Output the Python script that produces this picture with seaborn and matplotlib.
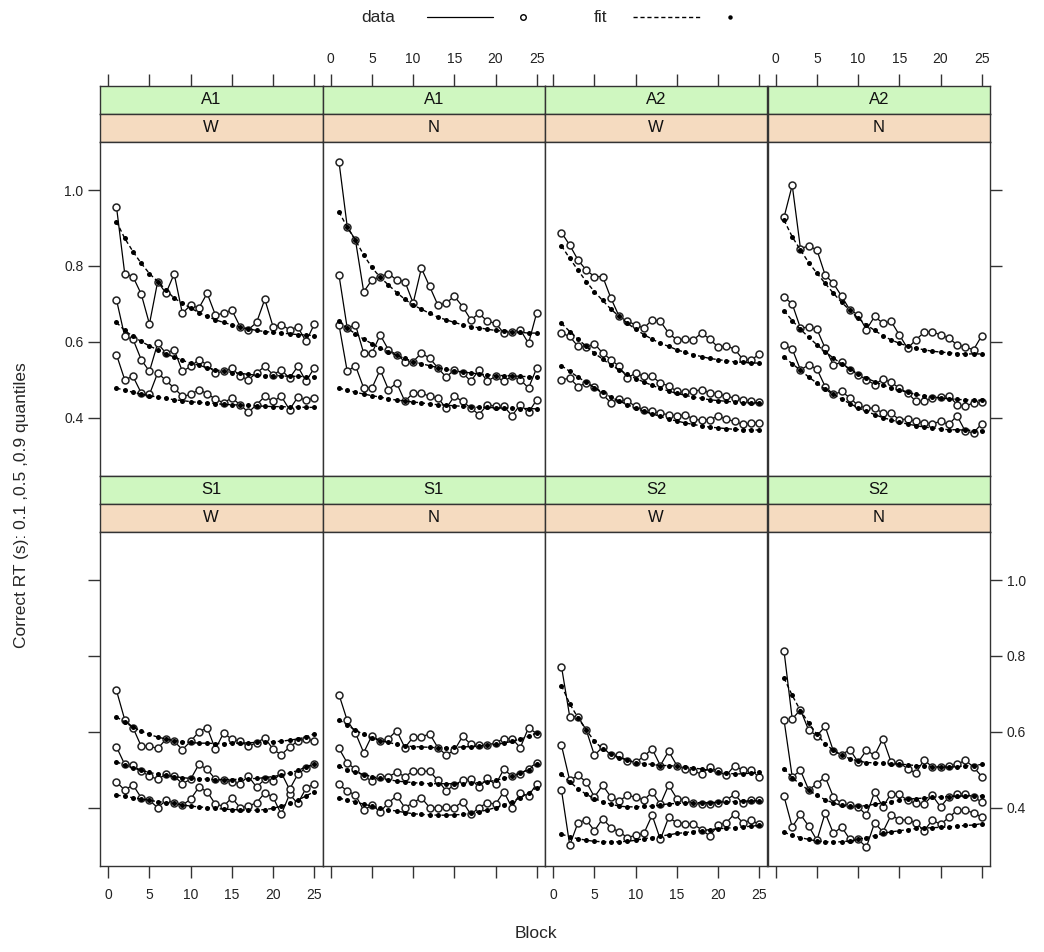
import numpy as np
import pandas as pd
import matplotlib
matplotlib.use("Agg")
import matplotlib.pyplot as plt
from matplotlib.lines import Line2D
import seaborn as sns

# ---- data: RT quantiles (s) per block, observed and fitted ----
blocks = list(range(1, 26))
stims = ["A1", "A1", "A2", "A2", "S1", "S1", "S2", "S2"]
conds = ["W", "N", "W", "N", "W", "N", "W", "N"]

a1_w_data_q90 = [0.956, 0.78, 0.772, 0.726, 0.647, 0.759, 0.728, 0.779, 0.675, 0.697, 0.689, 0.728, 0.671,
                 0.675, 0.684, 0.64, 0.632, 0.651, 0.712, 0.64, 0.645, 0.632, 0.639, 0.601, 0.646]
a1_w_fit_q90 = [0.917, 0.873, 0.838, 0.807, 0.78, 0.759, 0.737, 0.715, 0.702, 0.689, 0.677, 0.667, 0.658,
                0.651, 0.645, 0.639, 0.634, 0.63, 0.627, 0.625, 0.623, 0.621, 0.619, 0.618, 0.616]
a1_w_data_q50 = [0.711, 0.614, 0.607, 0.553, 0.522, 0.596, 0.57, 0.579, 0.522, 0.535, 0.553, 0.539, 0.518,
                 0.522, 0.531, 0.509, 0.5, 0.518, 0.535, 0.513, 0.526, 0.504, 0.535, 0.496, 0.531]
a1_w_fit_q50 = [0.651, 0.63, 0.614, 0.601, 0.589, 0.579, 0.568, 0.56, 0.551, 0.544, 0.538, 0.532, 0.526,
                0.523, 0.519, 0.517, 0.514, 0.512, 0.511, 0.511, 0.51, 0.509, 0.509, 0.508, 0.508]
a1_w_data_q10 = [0.566, 0.5, 0.509, 0.465, 0.461, 0.518, 0.498, 0.478, 0.456, 0.461, 0.474, 0.463, 0.449,
                 0.439, 0.452, 0.434, 0.414, 0.434, 0.456, 0.443, 0.456, 0.421, 0.454, 0.446, 0.452]
a1_w_fit_q10 = [0.478, 0.472, 0.467, 0.462, 0.458, 0.454, 0.451, 0.447, 0.445, 0.442, 0.44, 0.439, 0.437,
                0.435, 0.434, 0.433, 0.432, 0.431, 0.43, 0.429, 0.429, 0.428, 0.428, 0.427, 0.427]

a1_n_data_q90 = [1.075, 0.904, 0.868, 0.732, 0.763, 0.772, 0.78, 0.763, 0.759, 0.702, 0.794, 0.746, 0.697,
                 0.702, 0.72, 0.693, 0.658, 0.675, 0.654, 0.649, 0.623, 0.627, 0.632, 0.596, 0.677]
a1_n_fit_q90 = [0.943, 0.902, 0.868, 0.829, 0.796, 0.77, 0.75, 0.73, 0.712, 0.697, 0.686, 0.675, 0.665,
                0.658, 0.651, 0.645, 0.64, 0.637, 0.633, 0.63, 0.628, 0.626, 0.625, 0.623, 0.623]
a1_n_data_q50 = [0.776, 0.636, 0.645, 0.57, 0.57, 0.618, 0.579, 0.566, 0.548, 0.548, 0.57, 0.557, 0.531,
                 0.507, 0.526, 0.518, 0.496, 0.526, 0.496, 0.509, 0.496, 0.509, 0.5, 0.478, 0.531]
a1_n_fit_q50 = [0.654, 0.636, 0.621, 0.607, 0.595, 0.583, 0.574, 0.564, 0.556, 0.548, 0.542, 0.537, 0.532,
                0.527, 0.524, 0.52, 0.518, 0.515, 0.513, 0.511, 0.511, 0.51, 0.509, 0.508, 0.507]
a1_n_data_q10 = [0.645, 0.522, 0.537, 0.478, 0.478, 0.526, 0.474, 0.491, 0.443, 0.465, 0.465, 0.456, 0.452,
                 0.425, 0.456, 0.443, 0.425, 0.408, 0.434, 0.43, 0.43, 0.405, 0.434, 0.414, 0.447]
a1_n_fit_q10 = [0.478, 0.472, 0.467, 0.462, 0.458, 0.454, 0.45, 0.446, 0.444, 0.441, 0.439, 0.436, 0.434,
                0.433, 0.431, 0.43, 0.428, 0.427, 0.427, 0.426, 0.425, 0.425, 0.424, 0.424, 0.423]

a2_w_data_q90 = [0.888, 0.855, 0.816, 0.789, 0.772, 0.772, 0.715, 0.667, 0.654, 0.645, 0.636, 0.658, 0.654,
                 0.623, 0.605, 0.607, 0.605, 0.623, 0.607, 0.586, 0.589, 0.581, 0.554, 0.551, 0.568]
a2_w_fit_q90 = [0.853, 0.82, 0.789, 0.759, 0.732, 0.709, 0.686, 0.667, 0.649, 0.633, 0.619, 0.607, 0.596,
                0.588, 0.579, 0.572, 0.566, 0.561, 0.556, 0.553, 0.55, 0.547, 0.546, 0.544, 0.544]
a2_w_data_q50 = [0.623, 0.614, 0.588, 0.586, 0.595, 0.57, 0.553, 0.535, 0.504, 0.518, 0.509, 0.509, 0.491,
                 0.484, 0.469, 0.467, 0.469, 0.474, 0.465, 0.463, 0.456, 0.452, 0.447, 0.443, 0.44]
a2_w_fit_q50 = [0.649, 0.627, 0.607, 0.588, 0.57, 0.554, 0.539, 0.526, 0.514, 0.503, 0.494, 0.485, 0.477,
                0.47, 0.464, 0.459, 0.454, 0.451, 0.447, 0.445, 0.443, 0.441, 0.439, 0.439, 0.439]
a2_w_data_q10 = [0.5, 0.504, 0.482, 0.491, 0.482, 0.461, 0.439, 0.449, 0.443, 0.43, 0.421, 0.417, 0.411,
                 0.408, 0.404, 0.408, 0.396, 0.393, 0.395, 0.404, 0.396, 0.39, 0.382, 0.386, 0.386]
a2_w_fit_q10 = [0.537, 0.522, 0.507, 0.493, 0.479, 0.467, 0.454, 0.444, 0.434, 0.425, 0.417, 0.41, 0.403,
                0.396, 0.391, 0.386, 0.382, 0.378, 0.375, 0.373, 0.371, 0.369, 0.368, 0.368, 0.367]

a2_n_data_q90 = [0.928, 1.013, 0.846, 0.853, 0.842, 0.776, 0.754, 0.72, 0.684, 0.671, 0.632, 0.667, 0.649,
                 0.654, 0.618, 0.583, 0.605, 0.625, 0.627, 0.618, 0.61, 0.592, 0.586, 0.579, 0.616]
a2_n_fit_q90 = [0.921, 0.877, 0.842, 0.809, 0.781, 0.754, 0.728, 0.704, 0.683, 0.662, 0.645, 0.63, 0.616,
                0.605, 0.596, 0.589, 0.583, 0.579, 0.575, 0.573, 0.571, 0.569, 0.568, 0.568, 0.568]
a2_n_data_q50 = [0.718, 0.7, 0.636, 0.639, 0.633, 0.583, 0.539, 0.546, 0.526, 0.513, 0.5, 0.487, 0.502,
                 0.493, 0.478, 0.465, 0.443, 0.443, 0.452, 0.454, 0.458, 0.434, 0.43, 0.439, 0.44]
a2_n_fit_q50 = [0.682, 0.656, 0.633, 0.612, 0.592, 0.574, 0.557, 0.542, 0.528, 0.516, 0.504, 0.495, 0.486,
                0.478, 0.472, 0.467, 0.461, 0.458, 0.454, 0.452, 0.45, 0.448, 0.447, 0.446, 0.446]
a2_n_data_q10 = [0.592, 0.581, 0.526, 0.539, 0.528, 0.482, 0.461, 0.469, 0.452, 0.432, 0.425, 0.425, 0.412,
                 0.411, 0.395, 0.396, 0.39, 0.386, 0.384, 0.39, 0.382, 0.405, 0.364, 0.36, 0.384]
a2_n_fit_q10 = [0.56, 0.542, 0.525, 0.507, 0.491, 0.475, 0.461, 0.449, 0.437, 0.426, 0.417, 0.408, 0.4,
                0.394, 0.388, 0.383, 0.379, 0.375, 0.373, 0.37, 0.368, 0.368, 0.367, 0.366, 0.366]

s1_w_data_q90 = [0.709, 0.632, 0.611, 0.562, 0.562, 0.556, 0.58, 0.575, 0.553, 0.575, 0.6, 0.611, 0.554,
                 0.597, 0.58, 0.575, 0.562, 0.571, 0.584, 0.554, 0.539, 0.56, 0.575, 0.582, 0.575]
s1_w_fit_q90 = [0.639, 0.626, 0.612, 0.602, 0.593, 0.586, 0.581, 0.577, 0.574, 0.572, 0.57, 0.57, 0.569,
                0.569, 0.57, 0.57, 0.571, 0.572, 0.573, 0.574, 0.575, 0.578, 0.581, 0.586, 0.595]
s1_w_data_q50 = [0.56, 0.514, 0.512, 0.496, 0.483, 0.475, 0.488, 0.483, 0.463, 0.475, 0.514, 0.501, 0.475,
                 0.472, 0.468, 0.463, 0.483, 0.454, 0.475, 0.47, 0.492, 0.448, 0.488, 0.505, 0.514]
s1_w_fit_q50 = [0.521, 0.512, 0.505, 0.498, 0.493, 0.488, 0.485, 0.482, 0.479, 0.477, 0.476, 0.475, 0.474,
                0.474, 0.474, 0.475, 0.476, 0.477, 0.479, 0.482, 0.486, 0.491, 0.498, 0.507, 0.516]
s1_w_data_q10 = [0.468, 0.446, 0.46, 0.426, 0.419, 0.4, 0.419, 0.413, 0.407, 0.422, 0.454, 0.442, 0.409,
                 0.404, 0.426, 0.4, 0.404, 0.413, 0.439, 0.428, 0.382, 0.435, 0.411, 0.451, 0.463]
s1_w_fit_q10 = [0.433, 0.43, 0.426, 0.423, 0.419, 0.416, 0.413, 0.411, 0.407, 0.404, 0.402, 0.4, 0.398,
                0.396, 0.395, 0.394, 0.393, 0.393, 0.395, 0.398, 0.404, 0.411, 0.419, 0.431, 0.442]

s1_n_data_q90 = [0.698, 0.63, 0.597, 0.545, 0.59, 0.575, 0.582, 0.603, 0.558, 0.586, 0.586, 0.595, 0.558,
                 0.539, 0.551, 0.588, 0.567, 0.565, 0.565, 0.571, 0.582, 0.582, 0.558, 0.611, 0.595]
s1_n_fit_q90 = [0.632, 0.618, 0.604, 0.593, 0.584, 0.577, 0.572, 0.567, 0.563, 0.561, 0.56, 0.559, 0.558,
                0.558, 0.559, 0.56, 0.561, 0.563, 0.564, 0.567, 0.57, 0.575, 0.581, 0.588, 0.597]
s1_n_data_q50 = [0.556, 0.518, 0.501, 0.483, 0.47, 0.482, 0.482, 0.493, 0.482, 0.496, 0.496, 0.496, 0.472,
                 0.444, 0.46, 0.472, 0.475, 0.454, 0.477, 0.461, 0.501, 0.483, 0.489, 0.503, 0.518]
s1_n_fit_q50 = [0.509, 0.5, 0.493, 0.487, 0.482, 0.477, 0.474, 0.47, 0.468, 0.466, 0.464, 0.463, 0.463,
                0.463, 0.463, 0.463, 0.464, 0.466, 0.468, 0.472, 0.477, 0.483, 0.491, 0.5, 0.515]
s1_n_data_q10 = [0.461, 0.444, 0.433, 0.393, 0.407, 0.389, 0.413, 0.431, 0.4, 0.413, 0.426, 0.4, 0.4,
                 0.402, 0.4, 0.416, 0.382, 0.4, 0.413, 0.409, 0.442, 0.4, 0.439, 0.431, 0.463]
s1_n_fit_q10 = [0.425, 0.42, 0.415, 0.409, 0.404, 0.398, 0.394, 0.391, 0.387, 0.384, 0.382, 0.381, 0.38,
                0.38, 0.381, 0.382, 0.385, 0.389, 0.394, 0.4, 0.407, 0.416, 0.426, 0.439, 0.453]

s2_w_data_q90 = [0.772, 0.64, 0.64, 0.605, 0.538, 0.56, 0.538, 0.538, 0.523, 0.52, 0.535, 0.555, 0.511,
                 0.549, 0.511, 0.503, 0.496, 0.489, 0.507, 0.496, 0.485, 0.511, 0.498, 0.498, 0.481]
s2_w_fit_q90 = [0.722, 0.674, 0.637, 0.605, 0.575, 0.555, 0.542, 0.532, 0.525, 0.519, 0.516, 0.514, 0.511,
                0.511, 0.509, 0.507, 0.504, 0.502, 0.498, 0.495, 0.491, 0.489, 0.489, 0.491, 0.494]
s2_w_data_q50 = [0.564, 0.472, 0.485, 0.468, 0.428, 0.459, 0.428, 0.418, 0.432, 0.428, 0.42, 0.441, 0.409,
                 0.459, 0.424, 0.42, 0.411, 0.409, 0.409, 0.412, 0.42, 0.435, 0.411, 0.419, 0.419]
s2_w_fit_q50 = [0.488, 0.468, 0.45, 0.435, 0.424, 0.415, 0.409, 0.404, 0.402, 0.402, 0.403, 0.404, 0.407,
                0.41, 0.411, 0.412, 0.413, 0.413, 0.413, 0.414, 0.415, 0.416, 0.417, 0.418, 0.418]
s2_w_data_q10 = [0.446, 0.301, 0.36, 0.368, 0.339, 0.371, 0.347, 0.336, 0.321, 0.327, 0.332, 0.38, 0.316,
                 0.374, 0.36, 0.358, 0.356, 0.342, 0.325, 0.354, 0.36, 0.384, 0.36, 0.367, 0.356]
s2_w_fit_q10 = [0.33, 0.323, 0.318, 0.314, 0.311, 0.31, 0.309, 0.31, 0.311, 0.314, 0.318, 0.321, 0.325,
                0.328, 0.332, 0.334, 0.337, 0.339, 0.342, 0.344, 0.346, 0.347, 0.349, 0.351, 0.353]

s2_n_data_q90 = [0.814, 0.634, 0.658, 0.604, 0.59, 0.614, 0.549, 0.54, 0.553, 0.52, 0.551, 0.538, 0.582,
                 0.52, 0.518, 0.503, 0.491, 0.526, 0.507, 0.507, 0.511, 0.514, 0.525, 0.507, 0.482]
s2_n_fit_q90 = [0.742, 0.696, 0.656, 0.623, 0.593, 0.568, 0.551, 0.538, 0.529, 0.523, 0.519, 0.518, 0.517,
                0.516, 0.515, 0.513, 0.511, 0.51, 0.508, 0.507, 0.507, 0.508, 0.51, 0.511, 0.514]
s2_n_data_q50 = [0.632, 0.481, 0.498, 0.447, 0.463, 0.481, 0.428, 0.411, 0.406, 0.402, 0.38, 0.441, 0.402,
                 0.437, 0.435, 0.419, 0.411, 0.409, 0.432, 0.402, 0.428, 0.435, 0.437, 0.428, 0.415]
s2_n_fit_q50 = [0.503, 0.479, 0.461, 0.446, 0.432, 0.421, 0.412, 0.406, 0.404, 0.404, 0.405, 0.409, 0.412,
                0.416, 0.419, 0.422, 0.424, 0.425, 0.427, 0.428, 0.429, 0.43, 0.431, 0.431, 0.431]
s2_n_data_q10 = [0.43, 0.349, 0.382, 0.351, 0.314, 0.386, 0.332, 0.349, 0.316, 0.316, 0.296, 0.36, 0.336,
                 0.38, 0.368, 0.367, 0.36, 0.339, 0.367, 0.356, 0.374, 0.393, 0.393, 0.386, 0.375]
s2_n_fit_q10 = [0.335, 0.327, 0.321, 0.316, 0.312, 0.31, 0.309, 0.31, 0.312, 0.316, 0.321, 0.326, 0.332,
                0.336, 0.339, 0.342, 0.345, 0.346, 0.347, 0.348, 0.349, 0.351, 0.353, 0.354, 0.358]

panel_data = [
    (a1_w_data_q10, a1_w_data_q50, a1_w_data_q90, a1_w_fit_q10, a1_w_fit_q50, a1_w_fit_q90),
    (a1_n_data_q10, a1_n_data_q50, a1_n_data_q90, a1_n_fit_q10, a1_n_fit_q50, a1_n_fit_q90),
    (a2_w_data_q10, a2_w_data_q50, a2_w_data_q90, a2_w_fit_q10, a2_w_fit_q50, a2_w_fit_q90),
    (a2_n_data_q10, a2_n_data_q50, a2_n_data_q90, a2_n_fit_q10, a2_n_fit_q50, a2_n_fit_q90),
    (s1_w_data_q10, s1_w_data_q50, s1_w_data_q90, s1_w_fit_q10, s1_w_fit_q50, s1_w_fit_q90),
    (s1_n_data_q10, s1_n_data_q50, s1_n_data_q90, s1_n_fit_q10, s1_n_fit_q50, s1_n_fit_q90),
    (s2_w_data_q10, s2_w_data_q50, s2_w_data_q90, s2_w_fit_q10, s2_w_fit_q50, s2_w_fit_q90),
    (s2_n_data_q10, s2_n_data_q50, s2_n_data_q90, s2_n_fit_q10, s2_n_fit_q50, s2_n_fit_q90),
]

# long-form table
rows = []
for p, series in enumerate(panel_data):
    for k, (kind, q) in enumerate([("data", 0.1), ("data", 0.5), ("data", 0.9),
                                   ("fit", 0.1), ("fit", 0.5), ("fit", 0.9)]):
        for b, v in zip(blocks, series[k]):
            rows.append({"panel": p, "stim": stims[p], "cond": conds[p], "kind": kind,
                         "quantile": q, "block": b, "rt": v})
df = pd.DataFrame(rows)

# ---- style ----
sns.set_style("white")
plt.rcParams["font.family"] = ["Liberation Sans", "DejaVu Sans"]
edge = "#333333"
plt.rcParams["axes.edgecolor"] = edge
plt.rcParams["axes.linewidth"] = 1.0
plt.rcParams["xtick.color"] = edge
plt.rcParams["ytick.color"] = edge
plt.rcParams["xtick.labelcolor"] = "#222222"
plt.rcParams["ytick.labelcolor"] = "#222222"

W, H = 1044, 952
fig = plt.figure(figsize=(W / 100, H / 100), dpi=100)


def px_axes(x0, y0, w, h):
    return fig.add_axes([x0 / W, 1 - (y0 + h) / H, w / W, h / H])


col_x = [100, 322.5, 545, 767.5]
col_w = 222.5
row_top = [86, 476]          # top of green strip
strip_h = 28
panel_h = 334
xlim = (-1.0, 26.0)
ylim = (0.246, 1.127)
xt = [0, 5, 10, 15, 20, 25]
yt = [0.4, 0.6, 0.8, 1.0]
green = "#cff7c0"
peach = "#f5dbc0"
tick_len = 8.5
tick_fs = 10

for p in range(8):
    r, c = divmod(p, 4)
    x0 = col_x[c]
    top = row_top[r]
    # strips
    s1 = px_axes(x0, top, col_w, strip_h)
    s2 = px_axes(x0, top + strip_h, col_w, strip_h)
    for s, col, txt in [(s1, green, stims[p]), (s2, peach, conds[p])]:
        s.set_facecolor(col)
        s.set_xlim(*xlim)
        s.set_xticks([])
        s.set_yticks([])
        s.text(0.5, 0.5, txt, transform=s.transAxes, ha="center", va="center",
               fontsize=12, color="#111111")
    if r == 0:
        s1.xaxis.set_ticks_position("top")
        s1.set_xticks(xt)
        s1.tick_params(axis="x", direction="out", length=tick_len, width=1,
                       labelsize=tick_fs, pad=6, top=True)
        if c % 2 == 0:
            s1.set_xticklabels([])

    ax = px_axes(x0, top + 2 * strip_h, col_w, panel_h)
    sub = df[df["panel"] == p]
    sns.lineplot(data=sub[sub["kind"] == "data"], x="block", y="rt", units="quantile",
                 estimator=None, color="black", lw=0.9, marker="o", markersize=5,
                 markerfacecolor="white", markeredgecolor="#222222", markeredgewidth=1.1,
                 ax=ax, legend=False)
    sns.lineplot(data=sub[sub["kind"] == "fit"], x="block", y="rt", units="quantile",
                 estimator=None, color="black", lw=1.0, linestyle=(0, (3, 2)), marker="o",
                 markersize=3.6, markeredgewidth=0, ax=ax, legend=False)
    ax.set_xlim(*xlim)
    ax.set_ylim(*ylim)
    ax.set_xlabel("")
    ax.set_ylabel("")
    ax.set_facecolor("white")
    ax.tick_params(direction="out", length=tick_len, width=1, labelsize=tick_fs)

    # x ticks: bottom row only, labels alternate
    if r == 1:
        ax.set_xticks(xt)
        ax.tick_params(axis="x", bottom=True, pad=7)
        if c % 2 == 1:
            ax.set_xticklabels([])
        else:
            ax.set_xticklabels([str(t) for t in xt])
    else:
        ax.set_xticks([])

    # y ticks: left on col 0, right on col 3, labels alternate
    if c == 0:
        ax.set_yticks(yt)
        ax.tick_params(axis="y", left=True)
        if r == 0:
            ax.set_yticklabels([f"{t:.1f}" for t in yt])
        else:
            ax.set_yticklabels([])
    elif c == 3:
        ax.yaxis.tick_right()
        ax.set_yticks(yt)
        ax.tick_params(axis="y", right=True, left=False)
        if r == 1:
            ax.set_yticklabels([f"{t:.1f}" for t in yt])
        else:
            ax.set_yticklabels([])
    else:
        ax.set_yticks([])

# axis labels
fig.text(536 / W, 1 - 934 / H, "Block", ha="center", va="center", fontsize=12.5)
fig.text(22 / W, 1 - 505 / H, "Correct RT (s): 0.1 ,0.5 ,0.9 quantiles", ha="center",
         va="center", rotation=90, fontsize=12.5)

# key (lattice-style: text, line, point)
ky = 1 - 17 / H
fig.text(378 / W, ky, "data", ha="center", va="center", fontsize=12.5)
fig.add_artist(Line2D([427 / W, 493 / W], [ky, ky], color="black", lw=0.9))
fig.add_artist(Line2D([523 / W], [ky], marker="o", markersize=4, markerfacecolor="white",
                      markeredgecolor="black", markeredgewidth=1))
fig.text(600 / W, ky, "fit", ha="center", va="center", fontsize=12.5)
fig.add_artist(Line2D([633 / W, 700 / W], [ky, ky], color="black", lw=1.0, linestyle=(0, (3, 2))))
fig.add_artist(Line2D([730 / W], [ky], marker="o", markersize=3.2, markerfacecolor="black",
                      markeredgewidth=0))

plt.savefig("out.png", dpi=100)
